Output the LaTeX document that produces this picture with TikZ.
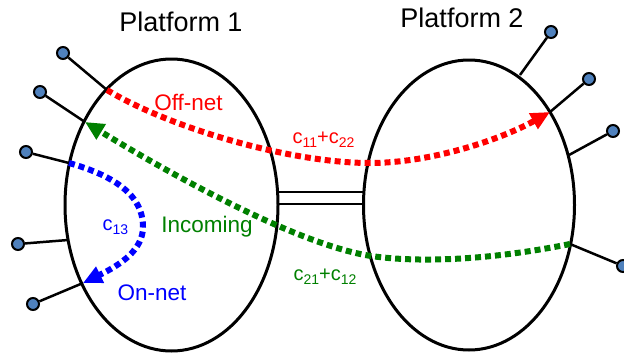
\documentclass[tikz,border=0pt]{standalone}
\usepackage{fontspec}
\setmainfont{Liberation Sans}
\usetikzlibrary{shapes.geometric,arrows.meta}
\definecolor{termblue}{RGB}{79,129,189}
\definecolor{offred}{RGB}{255,0,0}
\definecolor{ingreen}{RGB}{0,128,0}
\definecolor{onblue}{RGB}{0,0,255}
\newcommand{\subsc}[1]{\raisebox{-4.5pt}{\fontsize{14}{14}\selectfont #1}}
\tikzset{
  platform/.style={draw, ellipse, line width=3pt, inner sep=0pt, minimum width=213pt, minimum height=292pt},
  terminal/.style={draw, circle, line width=2pt, fill=termblue, inner sep=0pt, minimum size=12pt},
  termline/.style={line width=2.5pt},
  link/.style={line width=2.6pt},
  flow/.style={line width=6pt, dash pattern=on 6pt off 4pt, -{Triangle[length=19pt,width=17pt]}},
  title/.style={font=\fontsize{27}{30}\selectfont, anchor=base},
  flowlabel/.style={font=\fontsize{22.5}{26}\selectfont, anchor=base},
  costlabel/.style={font=\fontsize{20}{22}\selectfont, anchor=base, inner sep=0pt},
}
\begin{document}
\begin{tikzpicture}[x=1pt,y=-1pt]
\useasboundingbox (0,0) rectangle (624,354);

% platforms
\node[platform] (p1) at (171.5,205) {};
\node[platform, minimum width=211pt, minimum height=290pt] (p2) at (469,205) {};

% interconnection
\coordinate (a1) at (277.5,192);
\coordinate (b1) at (364,192);
\coordinate (a2) at (277,204);
\coordinate (b2) at (364.5,204);
\draw[link] (a1) -- (b1);
\draw[link] (a2) -- (b2);

% junctions on platform 1
\coordinate (j1) at (107,90);
\coordinate (j2) at (85,122);
\coordinate (j3) at (69,163);
\coordinate (j4) at (68,240);
\coordinate (j5) at (83,283);
% junctions on platform 2
\coordinate (k1) at (520,75);
\coordinate (k2) at (550,112);
\coordinate (k3) at (569,155);
\coordinate (k4) at (570,244);

% terminals
\node[terminal] (t1) at (63,53) {};
\node[terminal] (t2) at (40,92) {};
\node[terminal] (t3) at (26,152) {};
\node[terminal] (t4) at (18,244) {};
\node[terminal] (t5) at (33,304) {};
\node[terminal] (u1) at (551,32) {};
\node[terminal] (u2) at (589,79) {};
\node[terminal] (u3) at (613,131) {};
\node[terminal] (u4) at (623,266) {};

\draw[termline] (t1) -- (j1);
\draw[termline] (t2) -- (j2);
\draw[termline] (t3) -- (j3);
\draw[termline] (t4) -- (j4);
\draw[termline] (t5) -- (j5);
\draw[termline] (u1) -- (k1);
\draw[termline] (u2) -- (k2);
\draw[termline] (u3) -- (k3);
\draw[termline] (u4) -- (k4);

% flows
\draw[flow, offred] (j1) .. controls (170,128) and (290,163) .. (370,163)
   .. controls (430,163) and (500,140) .. (k2);
\draw[flow, ingreen] (k4) .. controls (490,260) and (420,263) .. (371,256)
   .. controls (300,245) and (180,180) .. (j2);
\draw[flow, onblue] (j3) .. controls (130,180) and (143,205) .. (143,227)
   .. controls (143,250) and (120,265) .. (j5);

% titles
\node[title] (n1) at (181,31) {Platform 1};
\node[title] (n2) at (462,27) {Platform 2};

% flow labels
\node[flowlabel, text=offred] (l1) at (188.5,110) {Off-net};
\node[flowlabel, text=ingreen] (l2) at (207,232) {Incoming};
\node[flowlabel, text=onblue] (l3) at (152,300) {On-net};

% cost labels
\node[costlabel, text=offred] (c1) at (323.5,143) {c\subsc{11}+c\subsc{22}};
\node[costlabel, text=ingreen] (c2) at (325,280) {c\subsc{21}+c\subsc{12}};
\node[costlabel, text=onblue] (c3) at (115.5,230) {c\subsc{13}};
\end{tikzpicture}
\end{document}
